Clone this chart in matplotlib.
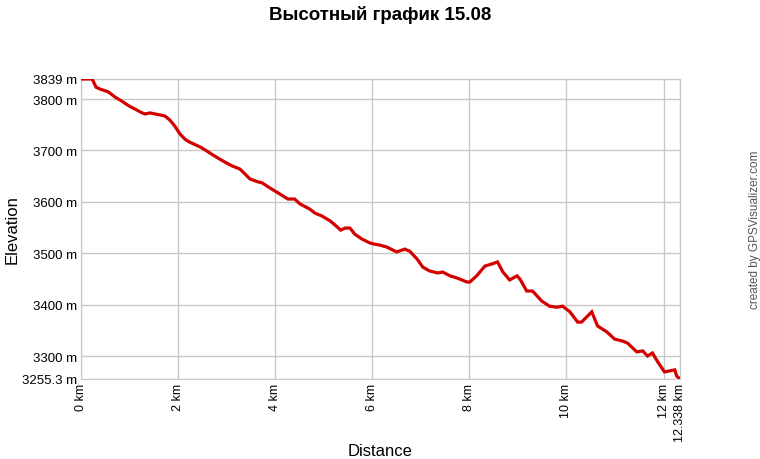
import matplotlib
matplotlib.use("Agg")
import matplotlib.pyplot as plt

plt.rcParams['font.family'] = ['Liberation Sans', 'DejaVu Sans']

# distance (km) and elevation (m)
dist = [0, 0.23, 0.31, 0.39, 0.56, 0.70, 0.84, 0.99, 1.11, 1.26, 1.32, 1.42, 1.63, 1.73,
        1.83, 1.93, 2.04, 2.14, 2.24, 2.45, 2.59, 2.72, 2.86, 2.96, 3.11, 3.27, 3.38, 3.48,
        3.64, 3.73, 3.89, 4.10, 4.26, 4.40, 4.51, 4.71, 4.82, 4.96, 5.13, 5.23, 5.35, 5.44,
        5.54, 5.64, 5.78, 5.95, 6.03, 6.15, 6.30, 6.50, 6.67, 6.77, 6.92, 7.04, 7.18, 7.35,
        7.45, 7.60, 7.74, 7.95, 8.01, 8.15, 8.32, 8.46, 8.58, 8.69, 8.83, 8.98, 9.04, 9.18,
        9.30, 9.49, 9.65, 9.80, 9.92, 10.07, 10.23, 10.31, 10.52, 10.64, 10.83, 10.99, 11.16,
        11.26, 11.45, 11.57, 11.67, 11.77, 11.88, 12.02, 12.12, 12.23, 12.27, 12.338]
elev = [3839, 3839, 3823, 3819.5, 3814, 3804, 3796, 3786.5, 3780.6, 3773, 3771, 3773, 3769, 3767,
        3759, 3747.6, 3732, 3722, 3716, 3707, 3699, 3691, 3683, 3677.5, 3670, 3664, 3654, 3644.5,
        3639, 3637, 3627, 3615, 3605.5, 3605.5, 3596, 3586, 3578, 3572.5, 3563, 3555, 3545, 3549,
        3549, 3537, 3528, 3520, 3518, 3516, 3512, 3502.5, 3508, 3504, 3489, 3473, 3465.5, 3461.6,
        3463.5, 3456, 3452, 3444, 3444, 3456, 3475, 3479, 3483, 3463.5, 3448, 3456, 3450, 3426.5,
        3426.5, 3407, 3397, 3395, 3397, 3386, 3366, 3366, 3386, 3358.5, 3347, 3333, 3329,
        3325, 3308, 3310, 3300, 3306, 3288.5, 3269, 3271, 3273, 3261, 3255.3]

y_ticks = [3255.3, 3300, 3400, 3500, 3600, 3700, 3800, 3839]
y_labels = ["3255.3 m", "3300 m", "3400 m", "3500 m", "3600 m", "3700 m", "3800 m", "3839 m"]
x_ticks = [0, 2, 4, 6, 8, 10, 12, 12.338]
x_labels = ["0 km", "2 km", "4 km", "6 km", "8 km", "10 km", "12 km", "12.338 km"]

fig = plt.figure(figsize=(7.6, 4.6), dpi=100)
ax = fig.add_axes([81/760, 1-380/460, 599/760, 300/460])

ax.plot(dist, elev, color="#d40000", linewidth=2.3, solid_joinstyle="miter", zorder=3)

ax.set_xlim(0, 12.338)
ax.set_ylim(3255.3, 3839)
ax.set_yticks(y_ticks)
ax.set_yticklabels(y_labels, fontsize=9.5)
ax.set_xticks(x_ticks)
ax.set_xticklabels(x_labels, fontsize=9, rotation=90)
ax.tick_params(length=0, pad=3)
ax.grid(True, color="#c8c8c8", linewidth=1)
for s in ax.spines.values():
    s.set_color("#c8c8c8")

fig.text(380/760, 1-452/460, "Distance", ha="center", va="center", fontsize=12)
fig.text(12/760, 1-230/460, "Elevation", rotation=90, ha="center", va="center", fontsize=12)
fig.text(380/760, 1-15/460, "Высотный график 15.08", ha="center", va="center",
         fontsize=13.5, fontweight="bold")
fig.text(755/760, 1-230/460, "created by GPSVisualizer.com", rotation=90,
         ha="center", va="center", fontsize=8.5, color="#555555")

fig.savefig("out.png", dpi=100)
